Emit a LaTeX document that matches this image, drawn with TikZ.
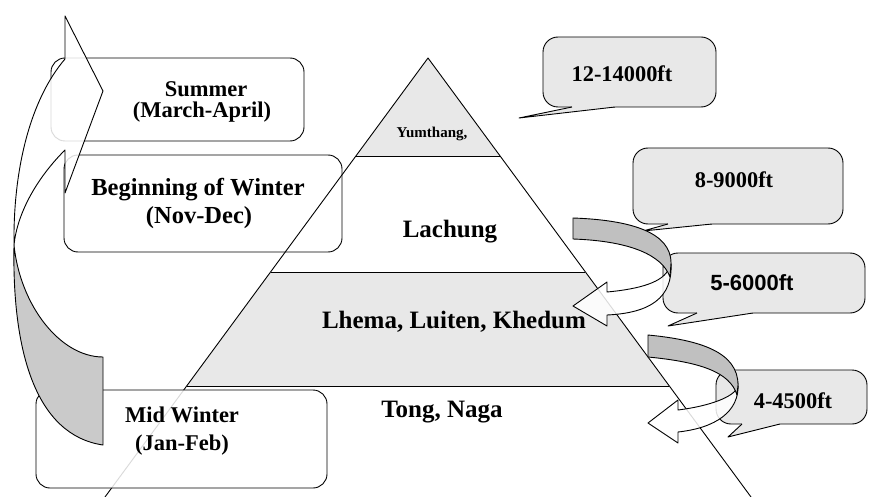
\documentclass[tikz,border=0pt]{standalone}
\usepackage{fontspec}
\setmainfont{Liberation Serif}
\newfontfamily\sansbold{Liberation Sans}
\definecolor{lightfill}{RGB}{232,232,232}
\definecolor{backgray}{RGB}{202,202,202}
\definecolor{ribgray}{RGB}{192,192,192}
\begin{document}
\begin{tikzpicture}[x=1pt,y=-1pt,line width=0.9pt,line join=round,
  lbl/.style={anchor=base,inner sep=0pt,font=\bfseries\fontsize{22.5}{27}\selectfont},
  biglbl/.style={anchor=base,inner sep=0pt,font=\bfseries\fontsize{24.5}{29}\selectfont},
  plbl/.style={anchor=base,inner sep=0pt,font=\bfseries\fontsize{25}{30}\selectfont},
  clbl/.style={anchor=base,inner sep=0pt,font=\bfseries\fontsize{22.4}{27}\selectfont},
  seasonbox/.style={draw,rounded corners=14pt},
  callbox/.style={draw,fill=lightfill,rounded corners=15pt},
  tailfill/.style={fill=lightfill},
  frontface/.style={draw,fill=white,fill opacity=0.85},
  backface/.style={draw,fill=backgray},
  ribback/.style={draw,fill=ribgray},
  ribfront/.style={draw,fill=white,fill opacity=0.85}]
\useasboundingbox (0,0) rectangle (869,497);

% ---------- pyramid ----------
\coordinate (apex) at (428,58);
\coordinate (l1) at (356,156);   \coordinate (r1) at (500,156);
\coordinate (l2) at (271,272);   \coordinate (r2) at (585,272);
\coordinate (l3) at (187,386);   \coordinate (r3) at (669,386);
\coordinate (lb) at (105,497);   \coordinate (rb) at (751,497);
\fill[lightfill] (apex) -- (l1) -- (r1) -- cycle;
\fill[lightfill] (l2) -- (r2) -- (r3) -- (l3) -- cycle;
\draw (l1) -- (r1);
\draw (l2) -- (r2);
\draw (l3) -- (r3);
\draw (lb) -- (apex) -- (rb);

% ---------- season boxes ----------
\draw[seasonbox] (51,58) rectangle (304,141);
\draw[seasonbox] (64,155) rectangle (342,252);
\draw[seasonbox,fill=white,fill opacity=0.85] (36,390) rectangle (327,488);

% ---------- callouts ----------
% 12-14000ft
\draw[callbox] (543,37) rectangle (716,107);
\fill[tailfill] (572,102) -- (572,107) -- (519,118) -- (615,107) -- (615,102) -- cycle;
\coordinate (t1a) at (572,107); \coordinate (t1tip) at (519,118); \coordinate (t1b) at (615,107);
\draw (t1a) -- (t1tip) -- (t1b);
% 8-9000ft
\draw[callbox] (633,148) rectangle (843,224);
\fill[tailfill] (668,219) -- (668,224) -- (643,231) -- (712,224) -- (712,219) -- cycle;
\coordinate (t2a) at (668,224); \coordinate (t2tip) at (643,231); \coordinate (t2b) at (712,224);
\draw (t2a) -- (t2tip) -- (t2b);
% 5-6000ft
\draw[callbox] (663,253) rectangle (865,313);
\fill[tailfill] (697,308) -- (697,313) -- (668,326) -- (753,313) -- (753,308) -- cycle;
\coordinate (t3a) at (697,313); \coordinate (t3tip) at (668,326); \coordinate (t3b) at (753,313);
\draw (t3a) -- (t3tip) -- (t3b);
% 4-4500ft
\draw[callbox] (716,370) rectangle (867,424);
\fill[tailfill] (742,419) -- (742,424) -- (728,437) -- (780,424) -- (780,419) -- cycle;
\coordinate (t4a) at (742,424); \coordinate (t4tip) at (728,437); \coordinate (t4b) at (780,424);
\draw (t4a) -- (t4tip) -- (t4b);

% ---------- big curved arrow on the left ----------
\draw[frontface] (65,59) -- (65,16) -- (103,91) -- (65,193) -- (65,150)
  .. controls (35,180) and (17,215) .. (14,245)
  .. controls (13,170) and (30,100) .. (65,59) -- cycle;
\draw[backface] (14,245) .. controls (12,350) and (35,435) .. (103,445)
  -- (103,357) .. controls (60,357) and (20,305) .. (14,245) -- cycle;

% ---------- U-turn arrows on the right ----------
\draw[ribfront] (671,263) .. controls (673,298) and (650,313) .. (607,315)
  -- (607,326) -- (573,306) -- (607,282) -- (607,292)
  .. controls (640,289) and (664,282) .. (669,268) -- cycle;
\draw[ribback] (573,218) .. controls (630,220) and (671,232) .. (671,263)
  -- (670,277) .. controls (662,255) and (630,241) .. (573,239) -- cycle;

\draw[ribfront] (738,383) .. controls (740,412) and (715,428) .. (678,432)
  -- (678,443) -- (648,423) -- (678,400) -- (678,410)
  .. controls (710,406) and (733,397) .. (737,388) -- cycle;
\draw[ribback] (648,335) .. controls (700,340) and (738,352) .. (738,385)
  -- (737,395) .. controls (730,372) and (700,362) .. (648,357) -- cycle;

% ---------- texts ----------
\node[lbl] (summer) at (206,97) {Summer};
\node[lbl] (summerm) at (202,118) {(March-April)};
\node[biglbl] (begin) at (198,195) {Beginning of Winter};
\node[biglbl] (beginm) at (199,223) {(Nov-Dec)};
\node[lbl] (mid) at (182,422) {Mid Winter};
\node[lbl] (midm) at (182,450) {(Jan-Feb)};
\node[anchor=base,inner sep=0pt,font=\bfseries\fontsize{15}{18}\selectfont] (yum) at (432,138) {Yumthang,};
\node[plbl] (lach) at (450,237) {Lachung};
\node[plbl] (lhema) at (454,328) {Lhema, Luiten, Khedum};
\node[plbl] (tong) at (442,417) {Tong, Naga};
\node[clbl] (c1) at (622,82) {12-14000ft};
\node[clbl] (c2) at (734,187) {8-9000ft};
\node[anchor=base,inner sep=0pt,font=\sansbold\bfseries\fontsize{22}{26}\selectfont] (c3) at (752,290) {5-6000ft};
\node[clbl] (c4) at (793,408) {4-4500ft};
\end{tikzpicture}
\end{document}
